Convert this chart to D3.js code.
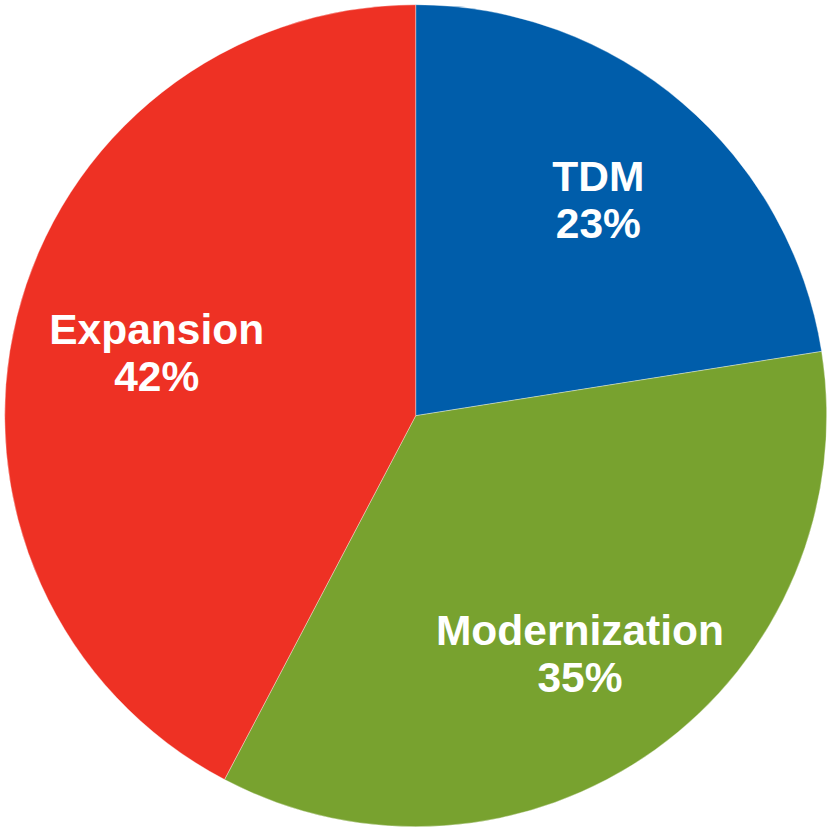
<!DOCTYPE html>
<html>
<head>
<meta charset="utf-8">
<script src="https://cdn.jsdelivr.net/npm/d3@7"></script>
<style>
  html, body { margin: 0; padding: 0; background: #fff; }
  svg { display: block; }
</style>
</head>
<body>
<svg id="chart"></svg>
<script>
// Slice values (share of the whole, clockwise from 12 o'clock)
const categories = ["TDM", "Modernization", "Expansion"];
const values = [22.5, 35.2, 42.3];
const pctLabels = ["23%", "35%", "42%"];
const colors = ["#005DAA", "#78A22F", "#EE3124"];
// label nudges away from the arc centroid
const labelShift = [[4, -7], [4, 15], [8, 3]];

const width = 827, height = 827;
const cx = 415.7, cy = 415.7, radius = 411;

const svg = d3.select("#chart")
  .attr("width", width)
  .attr("height", height);

const g = svg.append("g")
  .attr("transform", `translate(${cx},${cy})`);

const pie = d3.pie().sort(null).value(d => d);
const arcs = pie(values);

const arc = d3.arc().innerRadius(0).outerRadius(radius);
const labelArc = d3.arc().innerRadius(275).outerRadius(275);

g.selectAll("path")
  .data(arcs)
  .join("path")
  .attr("d", arc)
  .attr("fill", (d, i) => colors[i])
  .attr("stroke", "#fff")
  .attr("stroke-width", 0.6)
  .attr("stroke-opacity", 0.6);

// Labels: name on first line, percentage under it
const lbl = g.selectAll("text")
  .data(arcs)
  .join("text")
  .attr("transform", (d, i) => {
    const [x, y] = labelArc.centroid(d);
    return `translate(${x + labelShift[i][0]},${y + labelShift[i][1]})`;
  })
  .attr("text-anchor", "middle")
  .attr("fill", "#fff")
  .style("font-family", "Liberation Sans, Arial, sans-serif")
  .style("font-weight", "bold")
  .style("font-size", "42.5px");

lbl.append("tspan")
  .attr("x", 0)
  .attr("y", -9)
  .text((d, i) => categories[i]);

lbl.append("tspan")
  .attr("x", 0)
  .attr("y", 38)
  .text((d, i) => pctLabels[i]);
</script>
</body>
</html>
